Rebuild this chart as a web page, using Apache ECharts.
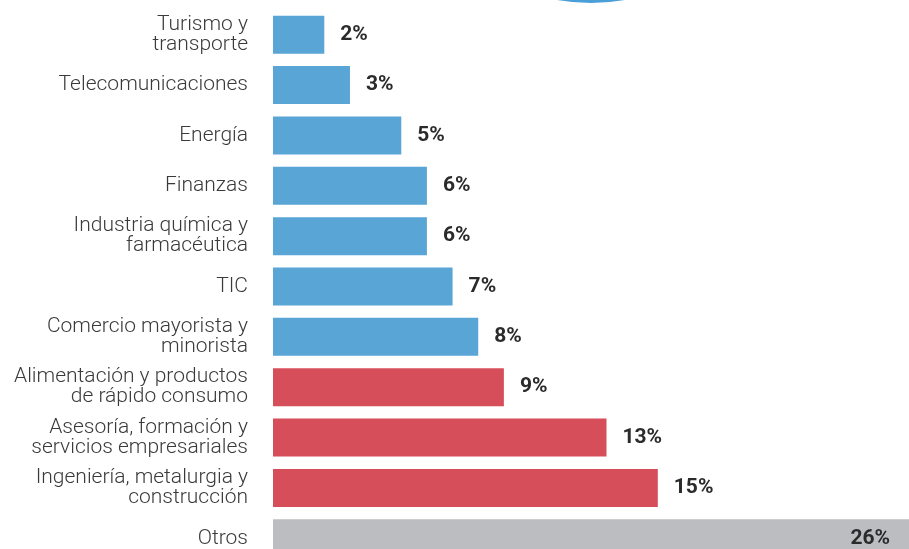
<!DOCTYPE html>
<html>
<head>
<meta charset="utf-8">
<script src="https://cdn.jsdelivr.net/npm/echarts@6/dist/echarts.min.js"></script>
<style>
  html, body { margin: 0; padding: 0; background: #fff; }
  #chart { width: 909px; height: 549px; }
</style>
</head>
<body>
<div id="chart"></div>
<script>
// categorias (de arriba a abajo)
var categories = [
  "Turismo y\ntransporte",
  "Telecomunicaciones",
  "Energía",
  "Finanzas",
  "Industria química y\nfarmacéutica",
  "TIC",
  "Comercio mayorista y\nminorista",
  "Alimentación y productos\nde rápido consumo",
  "Asesoría, formación y\nservicios empresariales",
  "Ingeniería, metalurgia y\nconstrucción",
  "Otros"
];
var values = [2, 3, 5, 6, 6, 7, 8, 9, 13, 15, 26];
var xMax = 26;

var chart = echarts.init(document.getElementById("chart"));

// color por bloque: azul, rojo, gris (Otros)
var barColor = function (i) {
  if (i < 7) return "#59a5d6";
  if (i < 10) return "#d74e5b";
  return "#bcbdc1";
};

var option = {
  animation: false,
  // la rejilla sale del lienzo por la derecha y por abajo (recorte)
  grid: {
    left: 273,
    top: 9.5,
    width: 667,
    height: 554,
    outerBoundsMode: "none",
    containLabel: false
  },
  xAxis: {
    type: "value",
    min: 0,
    max: xMax,
    show: false
  },
  yAxis: {
    type: "category",
    inverse: true,
    data: categories,
    axisLine: { show: false },
    axisTick: { show: false },
    splitLine: { show: false },
    axisLabel: {
      margin: 25,
      color: "#3a3a3a",
      fontFamily: "Roboto",
      fontWeight: 300,
      fontSize: 21,
      lineHeight: 20,
      align: "right"
    }
  },
  graphic: [
    {
      type: "circle",
      shape: { cx: 591, cy: -191, r: 194 },
      style: { fill: "#4a9fd8" },
      silent: true
    }
  ],
  series: [
    {
      type: "bar",
      barWidth: 38,
      data: values.map(function (v, i) {
        var item = { value: v, itemStyle: { color: barColor(i) } };
        if (i === values.length - 1) {
          item.label = { position: "insideRight", distance: 50 };
        }
        return item;
      }),
      label: {
        show: true,
        position: "right",
        distance: 16,
        formatter: "{c}%",
        color: "#2b2b2b",
        fontFamily: "Roboto",
        fontWeight: "bold",
        fontSize: 21
      }
    }
  ]
};
chart.setOption(option);
window.addEventListener("resize", function () {
  chart.resize();
});
</script>
</body>
</html>
